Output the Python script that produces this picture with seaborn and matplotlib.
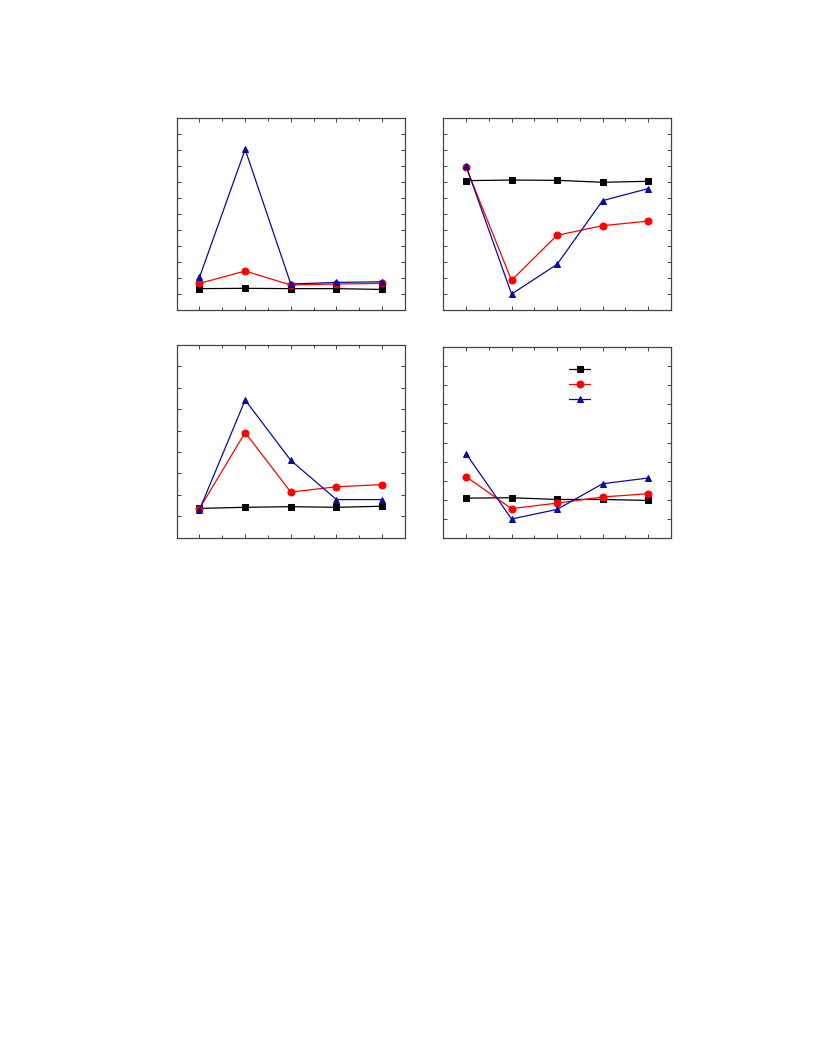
import numpy as np
import pandas as pd
import seaborn as sns
import matplotlib.pyplot as plt
from matplotlib.ticker import MultipleLocator

sns.set_style("ticks")
plt.rcParams.update({'font.size': 8})

# x categories (no labels shown in the reference)
x = [1, 2, 3, 4, 5]

# panel a
a_black = [1.34, 1.36, 1.34, 1.34, 1.29]
a_red = [1.67, 2.44, 1.57, 1.63, 1.67]
a_blue = [2.05, 10.06, 1.63, 1.73, 1.77]
# panel b
b_black = [8.10, 8.14, 8.12, 8.00, 8.06]
b_red = [8.94, 1.86, 4.68, 5.28, 5.57]
b_blue = [9.02, 1.00, 2.86, 6.85, 7.60]
# panel c
c_black = [1.37, 1.42, 1.45, 1.42, 1.47]
c_red = [1.36, 4.91, 2.13, 2.38, 2.48]
c_blue = [1.31, 6.43, 3.61, 1.78, 1.78]
# panel d
d_black = [2.10, 2.12, 2.03, 2.03, 1.98]
d_red = [3.22, 1.55, 1.84, 2.16, 2.33]
d_blue = [4.42, 1.01, 1.51, 2.85, 3.15]

panels = [
    ([0.2165, 0.7064, 0.2798, 0.1815], (a_black, a_red, a_blue), 12),
    ([0.5433, 0.7064, 0.2787, 0.1815], (b_black, b_red, b_blue), 12),
    ([0.2165, 0.4908, 0.2798, 0.1825], (c_black, c_red, c_blue), 9),
    ([0.5433, 0.4902, 0.2787, 0.1814], (d_black, d_red, d_blue), 10),
]
colors = ['black', '#ff0000', '#0a0aa0']
markers = ['s', 'o', '^']

fig = plt.figure(figsize=(8.16, 10.56), dpi=100)
for i, (rect, series, ytop) in enumerate(panels):
    ax = fig.add_axes(rect)
    for s, c, m in zip(series, colors, markers):
        sns.lineplot(x=x, y=s, ax=ax, color=c, marker=m, markersize=5,
                     markeredgecolor=c, linewidth=0.9)
    ax.set_xlim(0.5, 5.5)
    ax.set_ylim(0, ytop)
    ax.xaxis.set_major_locator(MultipleLocator(1))
    ax.xaxis.set_minor_locator(MultipleLocator(0.5))
    ax.yaxis.set_major_locator(MultipleLocator(1))
    ax.tick_params(which='both', direction='in', top=True, right=True,
                   labelbottom=False, labelleft=False, width=0.7, colors='#444444')
    ax.tick_params(which='major', length=3)
    ax.tick_params(which='minor', length=2)
    for sp in ax.spines.values():
        sp.set_linewidth(0.9)
        sp.set_color('#444444')
    if i == 3:
        ax.legend(ax.get_lines()[:3], ['', '', ''], loc='center',
                  bbox_to_anchor=(0.60, 0.80), frameon=False,
                  handlelength=1.9, labelspacing=0.45, handletextpad=0.0,
                  fontsize=8)
    else:
        leg = ax.get_legend()
        if leg:
            leg.remove()

fig.savefig("out.png", dpi=100)
